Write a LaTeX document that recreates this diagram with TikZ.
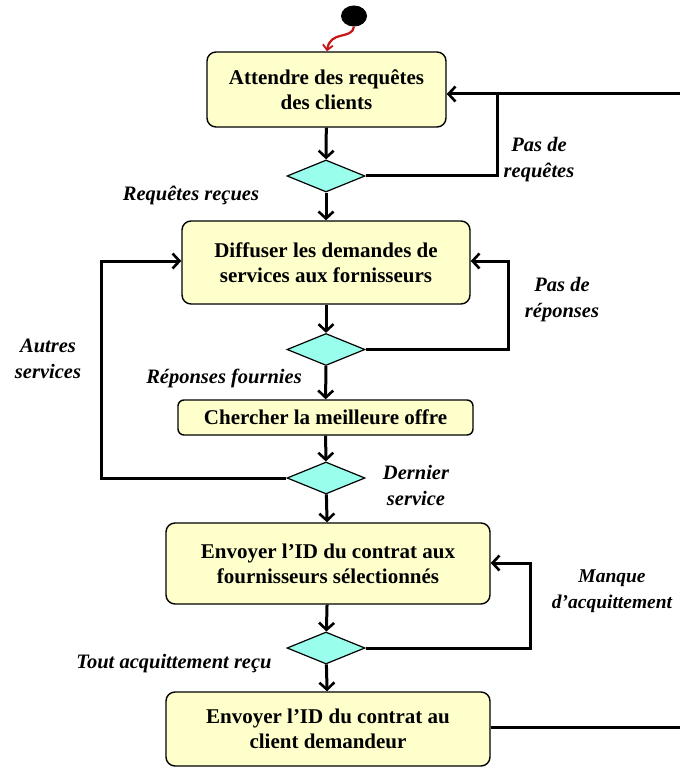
\documentclass[tikz,border=0pt]{standalone}
\usepackage{fontspec}
\setmainfont{Liberation Serif}
\usetikzlibrary{arrows.meta,shapes.geometric}
\definecolor{boxfill}{RGB}{255,255,204}
\definecolor{decfill}{RGB}{153,255,236}
\definecolor{startred}{RGB}{200,20,20}
\tikzset{
  act/.style={draw=black,line width=1.4pt,fill=boxfill,rounded corners=9pt,
    align=center,font=\fontsize{21}{25}\selectfont\bfseries,inner sep=0pt},
  dec/.style={draw=black,line width=1.2pt,fill=decfill,diamond,aspect=2.4,
    minimum width=78pt,minimum height=32pt,inner sep=0pt},
  flow/.style={line width=3pt,-{Straight Barb[length=7pt,width=15pt,line width=2.6pt]}},
  wire/.style={line width=3pt},
  lbl/.style={align=center,font=\fontsize{20.5}{26}\selectfont\bfseries\itshape}
}
\begin{document}
\begin{tikzpicture}[x=1pt,y=-1pt]
\useasboundingbox (0,0) rectangle (680,767);
% start state
\node[fill=black,ellipse,minimum width=26pt,minimum height=21pt,inner sep=0pt] (start) at (354,16) {};
% activities
\node[act,minimum width=239pt,minimum height=75pt] (a1) at (326.5,89.5) {Attendre des requêtes\\des clients};
\node[act,minimum width=288pt,minimum height=83pt] (a2) at (326,262.5) {Diffuser les demandes de\\services aux fornisseurs};
\node[act,minimum width=295pt,minimum height=35pt,rounded corners=6pt] (a3) at (325.5,417.5) {Chercher la meilleure offre};
\node[act,minimum width=324pt,minimum height=81pt] (a4) at (328,563.5) {Envoyer l’ID du contrat aux\\fournisseurs sélectionnés};
\node[act,minimum width=324pt,minimum height=74pt] (a5) at (328,729) {Envoyer l’ID du contrat au\\client demandeur};
% decisions
\node[dec] (d1) at (326,176) {};
\node[dec] (d2) at (326,349.5) {};
\node[dec] (d3) at (326,478) {};
\node[dec] (d4) at (326,648) {};
% loop ends at the right margin
\coordinate (inR) at (680,94);
\coordinate (outR) at (680,727);
% start transition
\draw[startred,line width=2.2pt,-{Straight Barb[length=5pt,width=10pt,line width=1.8pt]}]
  (start.south) .. controls (352,40) and (330,30) .. (a1.north -| 327,0);
% main flow
\draw[flow] (a1) -- (d1);
\draw[flow] (d1) -- (a2);
\draw[flow] (a2) -- (d2);
\draw[flow] (d2) -- (a3);
\draw[flow] (a3) -- (d3);
\draw[flow] (d3) -- (a4);
\draw[flow] (a4) -- (d4);
\draw[flow] (d4) -- (a5);
% loops
\draw[wire] (d1.east) -| (497,94);
\draw[flow] (inR) -- (a1.east |- inR);
\draw[flow] (d2.east) -| (508,261) -- (a2.east |- 0,261);
\draw[flow] (d3.west) -| (101,261) -- (a2.west |- 0,261);
\draw[flow] (d4.east) -| (530,563) -- (a4.east |- 0,563);
\draw[wire] (a5.east |- outR) -- (outR);
% guard labels
\node[lbl] (l1) at (539,160) {Pas de\\requêtes};
\node[lbl] (l2) at (191,195) {Requêtes reçues};
\node[lbl] (l3) at (562,300) {Pas de\\réponses};
\node[lbl] (l4) at (48,359) {Autres\\services};
\node[lbl] (l5) at (224,378) {Réponses fournies};
\node[lbl] (l6) at (416,485) {Dernier\\service};
\node[lbl,font=\fontsize{19.5}{26}\selectfont\bfseries\itshape] (l7) at (612,591) {Manque\\d’acquittement};
\node[lbl] (l8) at (174,664) {Tout acquittement reçu};
\end{tikzpicture}
\end{document}
